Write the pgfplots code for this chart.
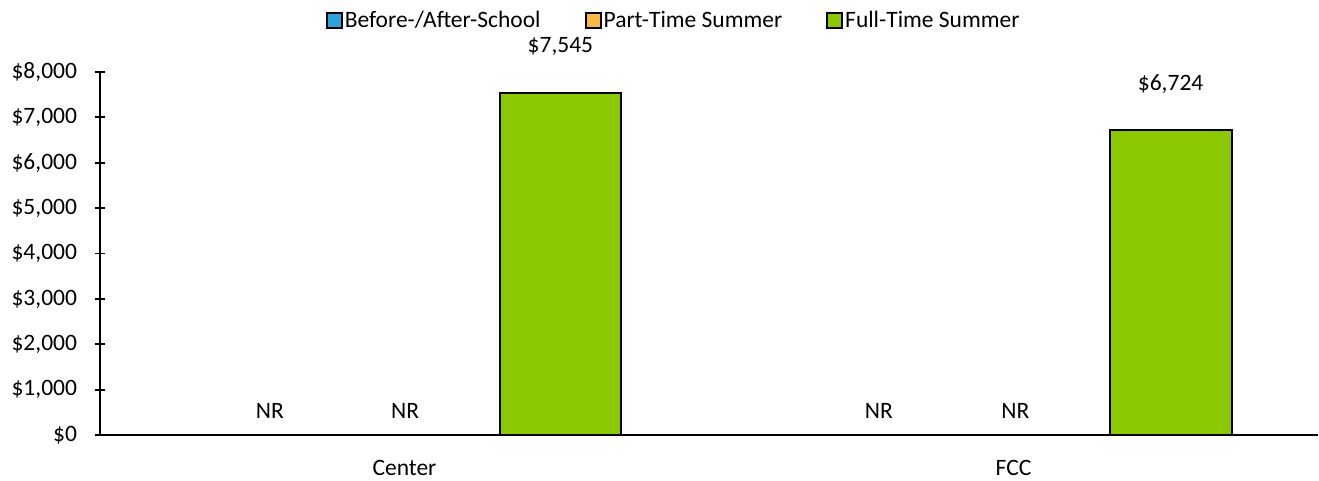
\documentclass[border=0pt]{standalone}
\usepackage{pgfplots}
\pgfplotsset{compat=1.18}
\usepackage{fontspec}
\setmainfont{Carlito}
\definecolor{blueC}{HTML}{2CA3DB}
\definecolor{orangeC}{HTML}{F8B843}
\definecolor{greenC}{HTML}{8CC800}
\newcommand{\lf}{\fontsize{23.5pt}{28pt}\selectfont}
\begin{document}
\lf
\begin{tikzpicture}[x=1pt,y=1pt]
\useasboundingbox (0,0) rectangle (1319,480);
\begin{axis}[
  at={(100pt,45pt)}, anchor=south west,
  width=1218pt, height=363pt, scale only axis,
  xmin=-0.5, xmax=1.5, ymin=0, ymax=8000,
  axis x line=bottom, axis y line=left,
  axis line style={-, line width=2pt},
  xtick={0,1}, xticklabels={Center,FCC},
  xtick style={draw=none},
  ytick={0,1000,...,8000},
  tick align=center, major tick length=10pt,
  ytick style={line width=1.8pt, black},
  yticklabel={\$\pgfmathprintnumber{\tick}},
  /pgf/number format/.cd, fixed, precision=0, 1000 sep={,}, assume math mode=true,
  /pgfplots/.cd,
  tick label style={font=\lf},
  yticklabel style={xshift=-10pt},
  xticklabel style={yshift=-12pt},
  legend style={draw=none, at={(0.471,1.14)}, anchor=center, legend columns=-1,
    font=\lf,
    /tikz/every even column/.append style={column sep=42pt},
    nodes={inner sep=2pt}},
  clip=false,
]
\addlegendimage{legend image code/.code={\draw[fill=blueC,draw=black,line width=2pt] (0pt,-7pt) rectangle (15pt,8pt);}}
\addlegendentry{Before-/After-School}
\addlegendimage{legend image code/.code={\draw[fill=orangeC,draw=black,line width=2pt] (0pt,-7pt) rectangle (15pt,8pt);}}
\addlegendentry{Part-Time Summer}
\addlegendimage{legend image code/.code={\draw[fill=greenC,draw=black,line width=2pt] (0pt,-7pt) rectangle (15pt,8pt);}}
\addlegendentry{Full-Time Summer}
\addplot[ybar, bar width=0.2, fill=greenC, draw=black, line width=2pt,
  nodes near coords={\$\pgfmathprintnumber[fixed,precision=0,1000 sep={,},assume math mode=true]{\pgfplotspointmeta}},
  every node near coord/.append style={anchor=center, yshift=46pt, black, font=\lf},
  forget plot]
  coordinates {(0.256,7545) (1.258,6724)};
\node[font=\lf, yshift=24pt] at (axis cs:-0.221,0) {NR};
\node[font=\lf, yshift=24pt] at (axis cs:0.001,0) {NR};
\node[font=\lf, yshift=24pt] at (axis cs:0.779,0) {NR};
\node[font=\lf, yshift=24pt] at (axis cs:1.003,0) {NR};
\end{axis}
\end{tikzpicture}
\end{document}
